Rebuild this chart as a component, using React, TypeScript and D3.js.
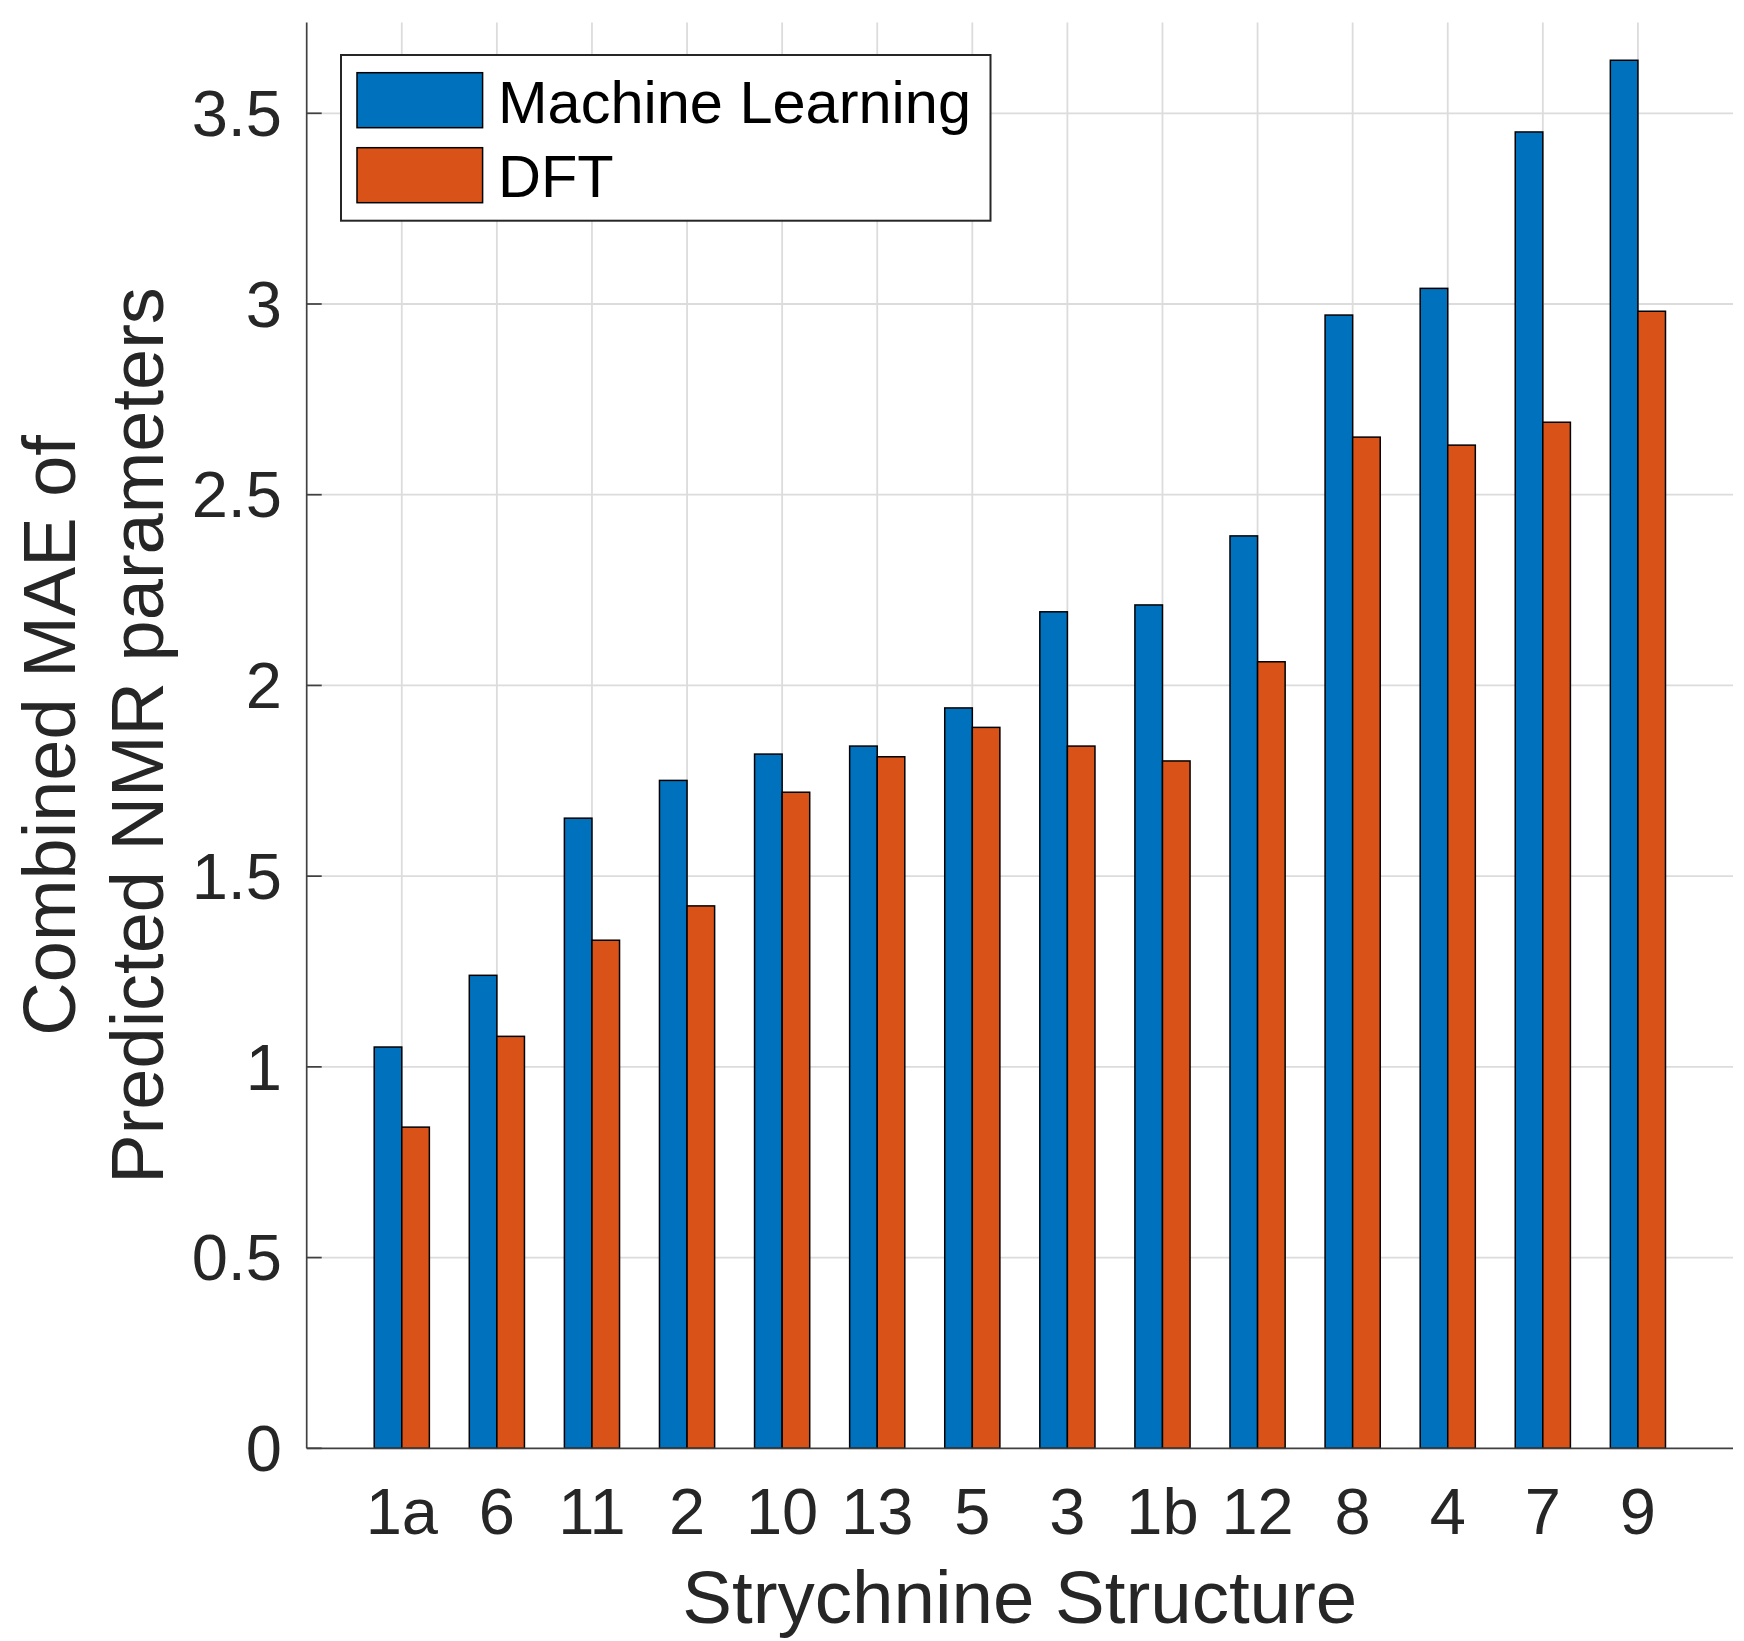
import React, { useEffect } from "react";
import * as d3 from "d3";

const categories = ["1a", "6", "11", "2", "10", "13", "5", "3", "1b", "12", "8", "4", "7", "9"];
const mlValues = [1.052, 1.24, 1.652, 1.751, 1.82, 1.841, 1.941, 2.193, 2.211, 2.392, 2.971, 3.041, 3.451, 3.639];
const dftValues = [0.842, 1.08, 1.332, 1.422, 1.72, 1.813, 1.89, 1.841, 1.802, 2.062, 2.651, 2.63, 2.69, 2.981];
const yTicks = [0, 0.5, 1, 1.5, 2, 2.5, 3, 3.5];
const seriesNames = ["Machine Learning", "DFT"];
const seriesColors = ["#0072BD", "#D95319"];

const W = 1744;
const H = 1641;
const left = 306.7;
const right = 1733;
const top = 22.5;
const bottom = 1448.3;
const FONT = "'Liberation Sans', Arial, Helvetica, sans-serif";
const TXT = "#262626";

export default function App() {
  useEffect(() => {
    document.body.style.margin = "0";
  }, []);

  const x = d3.scaleLinear().domain([0, categories.length + 1]).range([left, right]);
  const y = d3.scaleLinear().domain([0, 3.738]).range([bottom, top]);
  const bw = (x(1) - x(0)) * 0.29;

  const series = [mlValues, dftValues];

  return (
    <svg width={W} height={H} style={{ display: "block" }} xmlns="http://www.w3.org/2000/svg">
      <rect x={0} y={0} width={W} height={H} fill="#ffffff" />
      {/* grid */}
      <g stroke="#dcdcdc" strokeWidth={1.8}>
        {yTicks.slice(1).map((t) => (
          <line key={"gy" + t} x1={left} x2={right} y1={y(t)} y2={y(t)} />
        ))}
        {categories.map((c, i) => (
          <line key={"gx" + c} x1={x(i + 1)} x2={x(i + 1)} y1={top} y2={bottom} />
        ))}
      </g>
      {/* x ticks (under bars) */}
      <g stroke="#404040" strokeWidth={1.7}>
        {categories.map((c, i) => (
          <line key={"tx" + c} x1={x(i + 1)} x2={x(i + 1)} y1={bottom} y2={bottom - 15} />
        ))}
      </g>
      {/* bars */}
      {series.map((vals, s) => (
        <g key={"s" + s} fill={seriesColors[s]} stroke="#000000" strokeWidth={1.5}>
          {vals.map((v, i) => {
            const cx = x(i + 1);
            const x0 = s === 0 ? cx - bw : cx;
            return <rect key={i} x={x0} y={y(v)} width={bw} height={y(0) - y(v)} />;
          })}
        </g>
      ))}
      {/* axes */}
      <g stroke="#404040" strokeWidth={1.7} fill="none">
        <line x1={left} x2={left} y1={top} y2={bottom} />
        <line x1={left} x2={right} y1={bottom} y2={bottom} />
        {yTicks.map((t) => (
          <line key={"ty" + t} x1={left} x2={left + 15} y1={y(t)} y2={y(t)} />
        ))}
      </g>
      {/* y tick labels */}
      <g fontFamily={FONT} fontSize={65} fill={TXT} textAnchor="end">
        {yTicks.map((t) => (
          <text key={"ly" + t} x={282} y={y(t)} dy="0.35em">
            {String(t)}
          </text>
        ))}
      </g>
      {/* x tick labels */}
      <g fontFamily={FONT} fontSize={65} fill={TXT} textAnchor="middle">
        {categories.map((c, i) => (
          <text key={"lx" + c} x={x(i + 1)} y={1534}>
            {c}
          </text>
        ))}
      </g>
      {/* axis labels */}
      <text x={(left + right) / 2} y={1623} fontFamily={FONT} fontSize={74.5} fill={TXT} textAnchor="middle">
        Strychnine Structure
      </text>
      <g fontFamily={FONT} fontSize={74} fill={TXT} textAnchor="middle">
        <text transform={`translate(75, ${(top + bottom) / 2}) rotate(-90)`}>Combined MAE of</text>
        <text transform={`translate(163, ${(top + bottom) / 2}) rotate(-90)`}>Predicted NMR parameters</text>
      </g>
      {/* legend */}
      <rect x={341} y={55} width={649.5} height={165.7} fill="#ffffff" stroke="#262626" strokeWidth={2} />
      {seriesNames.map((n, s) => (
        <g key={"lg" + n}>
          <rect x={357} y={72.7 + s * 75} width={125.6} height={55} fill={seriesColors[s]} stroke="#000000" strokeWidth={1.5} />
          <text x={498} y={123.3 + s * 74} fontFamily={FONT} fontSize={59.5} fill="#000000">
            {n}
          </text>
        </g>
      ))}
    </svg>
  );
}
